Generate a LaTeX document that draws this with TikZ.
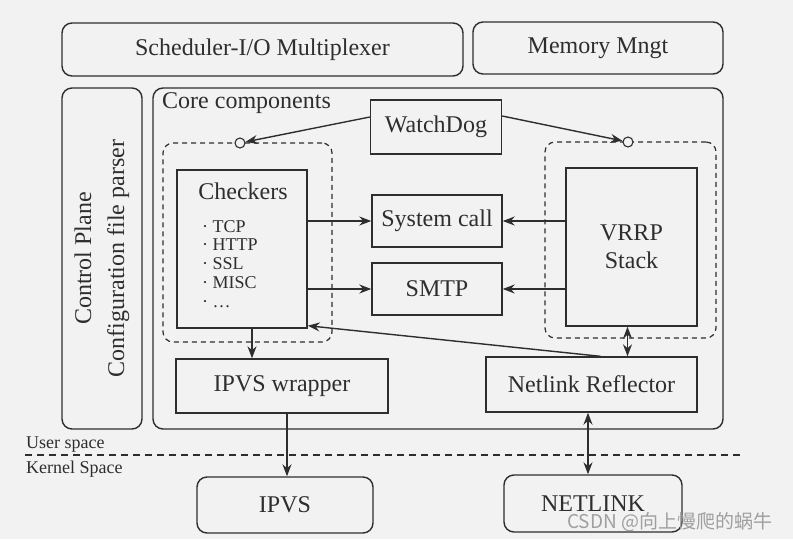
\documentclass[tikz,border=0pt]{standalone}
\usepackage{fontspec}
\setmainfont{Liberation Serif}
\newfontfamily\cjkfont{Noto Sans CJK SC}
\usetikzlibrary{positioning,arrows.meta}
\definecolor{ink}{HTML}{2E2E2E}
\definecolor{paper}{HTML}{F2F2F2}

\begin{document}
\begin{tikzpicture}[
		x=1pt, y=-1pt,
		box/.style={rectangle, draw=ink, line width=1.4pt, inner sep=0pt, text=ink},
		rbox/.style={box, rounded corners=10pt},
		group/.style={rectangle, draw=ink, line width=1.2pt, dash pattern=on 5pt off 4pt, rounded corners=10pt, inner sep=0pt},
		port/.style={circle, draw=ink, fill=paper, line width=1.1pt, minimum size=10pt, inner sep=0pt},
		arr/.style={-{Stealth[length=12pt,width=9pt]}, draw=ink, line width=1.4pt},
		darr/.style={{Stealth[length=12pt,width=9pt]}-{Stealth[length=12pt,width=9pt]}, draw=ink, line width=1.4pt},
		txt/.style={text=ink, inner sep=0pt},
		font=\fontsize{24}{26}\selectfont,
		]
		\fill[paper] (0,0) rectangle (793,539);
		\useasboundingbox (0,0) rectangle (793,539);

		%Top Nodes
		\node[rbox, minimum width=401pt, minimum height=53pt]	(sched)	at (262.5,49.5)	{Scheduler-I/O Multiplexer};
		\node[rbox, minimum width=250pt, minimum height=52pt]	(mem)	at (598,48)		{Memory Mngt};
		\node[rbox, minimum width=80pt, minimum height=341pt]	(ctrl)	at (102,258.5)	{};
		\node[txt, rotate=90, align=center, font=\fontsize{24}{33}\selectfont]	(ctrl_txt)	at (ctrl)	{Control Plane\\Configuration file parser};

		%Core
		\node[rbox, minimum width=570pt, minimum height=341pt]	(core)	at (438,258.5)	{};
		\node[txt, anchor=base west]	(core_txt)	at (162,108)	{Core components};
		\node[box, minimum width=131pt, minimum height=54pt]	(watchdog)	at (436,127)	{WatchDog};
		\node[group, minimum width=169pt, minimum height=199pt]	(lgroup)	at (247.5,242.5)	{};
		\node[group, minimum width=171pt, minimum height=196pt]	(rgroup)	at (630.5,240)	{};
		\node[port]	(lport)	at (240,143)	{};
		\node[port]	(rport)	at (628,142)	{};

		%Checkers
		\node[box, minimum width=130pt, minimum height=158pt]	(checkers)	at (242,249)	{};
		\node[txt, anchor=base]	(checkers_title)	at (243,199)	{Checkers};
		\node[txt, anchor=base west, align=left, font=\fontsize{18}{18.7}\selectfont]	(checkers_list)	at (202,307)
			{· TCP\\· HTTP\\· SSL\\· MISC\\· \dots};

		\node[box, minimum width=130pt, minimum height=52pt]	(syscall)	at (437,221)	{System call};
		\node[box, minimum width=130pt, minimum height=52pt]	(smtp)		at (437,289)	{SMTP};
		\node[box, minimum width=131pt, minimum height=158pt, align=center, font=\fontsize{24}{28}\selectfont]	(vrrp)	at (631.5,247)	{VRRP\\Stack};
		\node[box, minimum width=212pt, minimum height=54pt]	(wrapper)	at (282,386)	{IPVS wrapper};
		\node[box, minimum width=211pt, minimum height=55pt]	(reflector)	at (591.5,384.5)	{Netlink Reflector};

		%Kernel
		\coordinate (sep_l) at (25,455);
		\coordinate (sep_r) at (742,455);
		\draw[ink, line width=1.2pt, dash pattern=on 7pt off 5pt] (sep_l) -- (sep_r);
		\node[txt, anchor=base west, font=\fontsize{18}{20}\selectfont]	(user)		at (26,448)	{User space};
		\node[txt, anchor=base west, font=\fontsize{18}{20}\selectfont]	(kernel)	at (26,473)	{Kernel Space};
		\node[rbox, minimum width=176pt, minimum height=56pt]	(ipvs)		at (285,505)	{IPVS};
		\node[rbox, minimum width=178pt, minimum height=57pt]	(netlink)	at (593,503.5)	{NETLINK};

		%Lines
		\draw[arr]	([yshift=10pt]watchdog.west)	--	(lport);
		\draw[arr]	([yshift=11pt]watchdog.east)	--	(rport);
		\draw[arr]	(checkers.east |- syscall)	--	(syscall.west);
		\draw[arr]	(checkers.east |- smtp)		--	(smtp.west);
		\draw[arr]	(vrrp.west |- syscall)		--	(syscall.east);
		\draw[arr]	(vrrp.west |- smtp)			--	(smtp.east);
		\draw[arr]	([xshift=10pt]checkers.south)	--	([xshift=10pt]checkers.south |- wrapper.north);
		\draw[arr]	([xshift=9pt]reflector.north)	--	([yshift=3pt]checkers.south east);
		\draw[darr]	([xshift=-4pt]vrrp.south)		--	([xshift=-4pt]vrrp.south |- reflector.north);
		\draw[arr]	([xshift=5pt]wrapper.south)		--	([xshift=5pt]wrapper.south |- ipvs.north);
		\draw[darr]	([xshift=-3.5pt]reflector.south)	--	([xshift=-3.5pt]reflector.south |- netlink.north);

		%Mark
		\node[txt, anchor=base west, text=gray!75, font=\cjkfont\fontsize{19}{20}\selectfont]	(mark)	at (567,528)	{CSDN @向上慢爬的蜗牛};

	\end{tikzpicture}
\end{document}
